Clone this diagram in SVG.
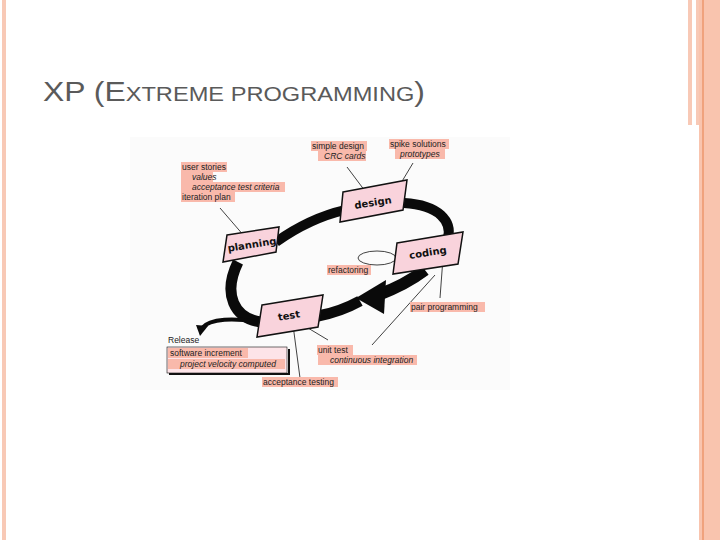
<svg xmlns="http://www.w3.org/2000/svg" width="720" height="540" viewBox="0 0 720 540">
<style>
.lbl{font-family:"Liberation Sans",Arial,sans-serif;font-size:8.5px;fill:#222}
.it{font-style:italic}
.hl{fill:#f9b9ab}
.box{fill:#f9d3dc;stroke:#111;stroke-width:1.5}
.bt{font-family:"DejaVu Sans",sans-serif;font-weight:bold;font-size:10px;fill:#111;text-anchor:middle}
.ln{stroke:#111;stroke-width:0.8;fill:none}
.band{stroke:#0a0a0a;fill:none;stroke-linecap:butt}
</style>
<rect width="720" height="540" fill="#fff"/>
<rect x="2" y="0" width="4" height="540" fill="#f8c9b6"/>
<rect x="688" y="0" width="4" height="125" fill="#f8c9b6"/>
<rect x="696" y="0" width="4" height="125" fill="#f8c9b6"/>
<rect x="699" y="0" width="21" height="540" fill="#f9c4ae"/>
<rect x="702" y="0" width="2" height="540" fill="#f0a27d"/>
<text x="43" y="101" font-family="Liberation Sans,Arial,sans-serif" fill="#5a5a5a" textLength="382" lengthAdjust="spacingAndGlyphs"><tspan font-size="27">XP (E</tspan><tspan font-size="20">XTREME PROGRAMMING</tspan><tspan font-size="27">)</tspan></text>
<rect x="130" y="137" width="380" height="253" fill="#fbfbfb"/>
<g id="connectors">
<path class="band" stroke-width="10" d="M276,242 Q310,218 345,210"/>
<path class="band" stroke-width="10" d="M404,203 C440,205 452,222 448,238"/>
<path class="band" stroke-width="12" d="M425,270 Q405,285 378,295"/>
<polygon points="386,280 356,298 384,314" fill="#0a0a0a"/>
<path class="band" stroke-width="11" d="M360,301 Q340,312 318,316"/>
<path class="band" stroke-width="11" d="M260,322 C235,318 222,295 238,262"/>
<path class="band" stroke-width="4" d="M258,322 C235,318 210,318 202,328"/>
<polygon points="196,325 208,326 200,336" fill="#0a0a0a"/>
<ellipse cx="377" cy="258" rx="19" ry="7" class="ln" stroke-width="1"/>
<line class="ln" x1="347" y1="167" x2="368" y2="195"/>
<line class="ln" x1="413" y1="163" x2="392" y2="198"/>
<line class="ln" x1="220" y1="208" x2="245" y2="237"/>
<line class="ln" x1="440" y1="298" x2="443" y2="258"/>
<line class="ln" x1="298" y1="322" x2="328" y2="340"/>
<line class="ln" x1="372" y1="345" x2="435" y2="275"/>
<line class="ln" x1="293" y1="325" x2="300" y2="378"/>
</g>
<g id="planning"><polygon class="box" points="227,235 279,227 276,252 223,262"/><text class="bt" x="252" y="248" transform="rotate(-9 252 245)">planning</text></g>
<g id="design"><polygon class="box" points="343,192 407,180 403,210 340,222"/><text class="bt" x="373" y="206" transform="rotate(-9 373 203)">design</text></g>
<g id="coding"><polygon class="box" points="397,243 463,232 458,264 393,274"/><text class="bt" x="428" y="256" transform="rotate(-9 428 253)">coding</text></g>
<g id="test"><polygon class="box" points="262,305 323,295 318,327 257,337"/><text class="bt" x="289" y="319" transform="rotate(-9 289 316)">test</text></g>
<g id="labels">
<rect class="hl" x="311" y="141" width="56" height="10"/><text class="lbl" x="312" y="149">simple design</text>
<rect class="hl" x="318" y="151" width="48" height="10"/><text class="lbl it" x="324" y="159">CRC cards</text>
<rect class="hl" x="389" y="139" width="60" height="10"/><text class="lbl" x="390" y="147">spike solutions</text>
<rect class="hl" x="395" y="149" width="50" height="10"/><text class="lbl it" x="400" y="157">prototypes</text>
<rect class="hl" x="181" y="162" width="46" height="10"/><text class="lbl" x="182" y="170">user stories</text>
<rect class="hl" x="181" y="172" width="32" height="10"/><text class="lbl it" x="192" y="180">values</text>
<rect class="hl" x="181" y="182" width="104" height="10"/><text class="lbl it" x="192" y="190">acceptance test criteria</text>
<rect class="hl" x="181" y="192" width="54" height="10"/><text class="lbl" x="182" y="200">iteration plan</text>
<rect class="hl" x="327" y="265" width="44" height="10"/><text class="lbl" x="328" y="273">refactoring</text>
<rect class="hl" x="410" y="302" width="75" height="10"/><text class="lbl" x="411" y="310">pair programming</text>
<text class="lbl" x="168" y="343">Release</text>
<rect x="167" y="347" width="120" height="26" fill="#fde4e8" stroke="#111" stroke-width="0.6"/>
<path d="M169,374 H289 V349" stroke="#111" stroke-width="2" fill="none"/>
<rect class="hl" x="168" y="348" width="80" height="10"/><text class="lbl" x="170" y="356">software increment</text>
<rect class="hl" x="168" y="359" width="117" height="10"/><text class="lbl it" x="180" y="367">project velocity computed</text>
<rect class="hl" x="317" y="345" width="36" height="10"/><text class="lbl" x="318" y="353">unit test</text>
<rect class="hl" x="318" y="355" width="99" height="10"/><text class="lbl it" x="330" y="363">continuous integration</text>
<rect class="hl" x="262" y="377" width="76" height="10"/><text class="lbl" x="263" y="385">acceptance testing</text>
</g>
</svg>
